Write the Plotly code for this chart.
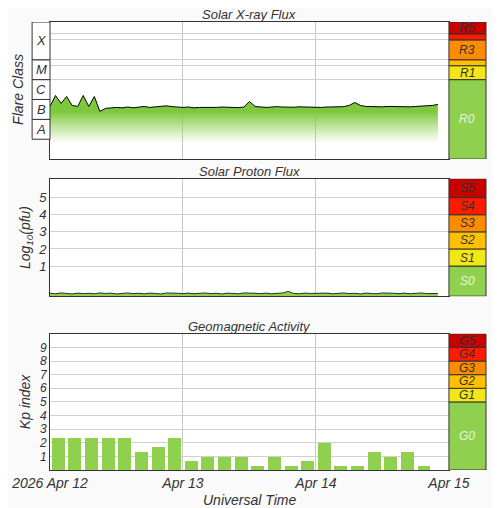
import pandas as pd
import plotly.graph_objects as go

# --- data ---
# X-ray flux, log10(W/m^2), hourly from 2026-04-12 00:00
xray_log = [
    -6.35, -5.8, -6.2, -5.85, -6.3, -6.35, -5.8, -6.35, -5.85, -6.6, -6.45, -6.42,
    -6.4, -6.42, -6.38, -6.42, -6.4, -6.35, -6.4, -6.38, -6.36, -6.32, -6.36, -6.38,
    -6.4, -6.38, -6.42, -6.4, -6.4, -6.42, -6.4, -6.38, -6.4, -6.42, -6.41, -6.38,
    -6.1, -6.35, -6.38, -6.4, -6.38, -6.36, -6.38, -6.4, -6.39, -6.37, -6.38, -6.38,
    -6.38, -6.4, -6.38, -6.39, -6.37, -6.36, -6.3, -6.15, -6.3, -6.35, -6.36, -6.38,
    -6.37, -6.35, -6.36, -6.38, -6.36, -6.37, -6.35, -6.34, -6.33, -6.3, -6.25,
]
# Proton flux, log10(pfu), hourly
proton_log = [
    -0.58, -0.62, -0.57, -0.6, -0.63, -0.58, -0.61, -0.59, -0.62, -0.57, -0.6, -0.58,
    -0.63, -0.6, -0.57, -0.61, -0.59, -0.62, -0.58, -0.6, -0.63, -0.57, -0.6, -0.59,
    -0.61, -0.58, -0.62, -0.6, -0.57, -0.61, -0.59, -0.63, -0.58, -0.6, -0.62, -0.57,
    -0.6, -0.59, -0.61, -0.58, -0.62, -0.6, -0.57, -0.48, -0.6, -0.62, -0.58, -0.6,
    -0.59, -0.61, -0.58, -0.62, -0.6, -0.57, -0.61, -0.59, -0.63, -0.58, -0.6, -0.62,
    -0.57, -0.6, -0.59, -0.61, -0.58, -0.62, -0.6, -0.57, -0.61, -0.59, -0.6,
]
# Kp index, 3-hourly
kp = [2.33, 2.33, 2.33, 2.33, 2.33, 1.33, 1.67, 2.33,
      0.67, 1.0, 1.0, 1.0, 0.33, 1.0, 0.33, 0.67,
      2.0, 0.33, 0.33, 1.33, 1.0, 1.33, 0.33]

r_scale = [("R0", -9, -5, "#8fd14f"), ("R1", -5, -4.3, "#f2e616"), ("", -4.3, -4, "#ffc000"),
           ("R3", -4, -3, "#ff8c00"), ("", -3, -2.7, "#ff1a00"), ("R5", -2.7, -2.1, "#c80000")]
s_scale = [("S0", -0.76, 1, "#8fd14f"), ("S1", 1, 2, "#f2e616"), ("S2", 2, 3, "#ffc000"),
           ("S3", 3, 4, "#ff8c00"), ("S4", 4, 5, "#ff1a00"), ("S5", 5, 6.1, "#c80000")]
g_scale = [("G0", 0, 5, "#8fd14f"), ("G1", 5, 6, "#f2e616"), ("G2", 6, 7, "#ffc000"),
           ("G3", 7, 8, "#ff8c00"), ("G4", 8, 9, "#ff1a00"), ("G5", 9, 10, "#c80000")]
flare_classes = [("A", -8, -7), ("B", -7, -6), ("C", -6, -5), ("M", -5, -4), ("X", -4, -2.1)]

t_x = pd.date_range("2026-04-12 00:00", periods=len(xray_log), freq="h")
t_p = pd.date_range("2026-04-12 00:00", periods=len(proton_log), freq="h")
t_k = pd.date_range("2026-04-12 01:30", periods=len(kp), freq="3h")

FONT = dict(family="Liberation Sans, Arial", size=13, color="#333", style="italic")
GREEN = "#8fd14f"
fig = go.Figure()

# x-ray: invisible floor, then gradient fill up to the flux line
fig.add_trace(go.Scatter(x=t_x, y=[-9] * len(t_x), mode="lines", line=dict(width=0),
                         hoverinfo="skip", xaxis="x", yaxis="y"))
fig.add_trace(go.Scatter(x=t_x, y=xray_log, mode="lines", line=dict(color="black", width=1),
                         fill="tonexty",
                         fillgradient=dict(type="vertical", start=-8.2, stop=-6.6,
                                           colorscale=[[0, "rgba(143,209,79,0)"], [1, "rgba(125,200,60,1)"]]),
                         xaxis="x", yaxis="y"))
fig.add_trace(go.Scatter(x=t_p, y=[-0.76] * len(t_p), mode="lines", line=dict(width=0),
                         hoverinfo="skip", xaxis="x2", yaxis="y2"))
fig.add_trace(go.Scatter(x=t_p, y=proton_log, mode="lines", line=dict(color="black", width=0.8),
                         fill="tonexty", fillcolor=GREEN, xaxis="x2", yaxis="y2"))
fig.add_trace(go.Bar(x=t_k, y=kp, width=3 * 3600 * 1000 * 0.78, marker=dict(color=GREEN, line_width=0),
                     xaxis="x3", yaxis="y3"))

xr = ["2026-04-12", "2026-04-15"]
common_x = dict(range=xr, showgrid=True, gridcolor="#c8c8c8", dtick=86400000, showline=True,
                linecolor="#333", mirror=True, ticks="", domain=[0, 0.915], automargin=False)
common_y = dict(gridcolor="#d0d0d0", zeroline=False, showline=True, linecolor="#333", mirror=True,
                automargin=False, ticks="")
fig.update_layout(
    width=484, height=502, margin=dict(l=42, r=6, t=14, b=40),
    paper_bgcolor="#fafafa", plot_bgcolor="white", showlegend=False, font=FONT,
    xaxis=dict(common_x, anchor="y", showticklabels=False),
    xaxis2=dict(common_x, anchor="y2", showticklabels=False),
    xaxis3=dict(common_x, anchor="y3", tickvals=["2026-04-12", "2026-04-13", "2026-04-14", "2026-04-15"],
                ticktext=["2026 Apr 12", "Apr 13", "Apr 14", "Apr 15"], tickfont=dict(size=14)),
    yaxis=dict(common_y, domain=[0.694, 1], range=[-9, -2.1], tickvals=[-2.7, -3, -4, -4.3, -5],
               showticklabels=False),
    yaxis2=dict(common_y, domain=[0.388, 0.65], range=[-0.76, 6.1], tickvals=[1, 2, 3, 4, 5],
                tickfont=dict(size=13),
                title=dict(text="Log<sub>10</sub>(pfu)", standoff=4, font=dict(size=14))),
    yaxis3=dict(common_y, domain=[0, 0.304], range=[0, 10], tickvals=list(range(1, 10)),
                tickfont=dict(size=12),
                title=dict(text="Kp index", standoff=4, font=dict(size=14))),
    bargap=0,
)

shapes, annots = [], []
for yref, scale in (("y", r_scale), ("y2", s_scale), ("y3", g_scale)):
    for name, lo, hi, col in scale:
        shapes.append(dict(type="rect", xref="paper", yref=yref, x0=0.915, x1=1.0, y0=lo, y1=hi,
                           fillcolor=col, line=dict(color="#333", width=1)))
        if name:
            annots.append(dict(text=name, xref="paper", yref=yref, x=0.9575, y=(lo + hi) / 2,
                               xanchor="center", showarrow=False, font=dict(FONT, size=12,
                               color="#e8f5dc" if name.endswith("0") else "#333")))
for name, lo, hi in flare_classes:
    shapes.append(dict(type="rect", xref="paper", yref="y", x0=-0.041, x1=0, y0=lo, y1=hi,
                       fillcolor="white", line=dict(color="#333", width=1)))
    annots.append(dict(text=name, xref="paper", yref="y", x=-0.0205, y=(lo + hi) / 2,
                       xanchor="center", showarrow=False, font=FONT))
annots.append(dict(text="Flare Class", xref="paper", yref="y", x=-0.052, y=-5.5, textangle=-90,
                   xanchor="right", showarrow=False, font=dict(FONT, size=14)))
annots.append(dict(text="Universal Time", xref="paper", yref="paper", x=0.4575, y=-0.09,
                   xanchor="center", showarrow=False, font=dict(FONT, size=14)))
for title, ypos in (("Solar X-ray Flux", 1.0), ("Solar Proton Flux", 0.65), ("Geomagnetic Activity", 0.304)):
    annots.append(dict(text=title, xref="paper", yref="paper", x=0.4575, y=ypos, yanchor="bottom",
                       yshift=-2, xanchor="center", showarrow=False, font=dict(FONT, size=13)))
fig.update_layout(shapes=shapes, annotations=annots)

fig.write_html("out.html")
